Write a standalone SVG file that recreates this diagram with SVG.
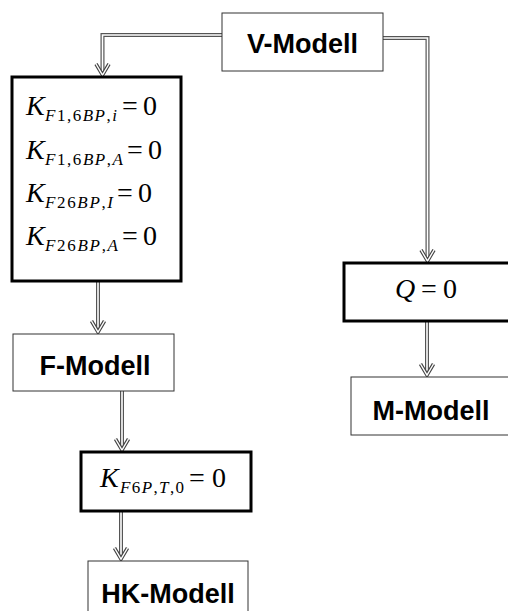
<svg xmlns="http://www.w3.org/2000/svg" xmlns:xlink="http://www.w3.org/1999/xlink" width="508" height="611" viewBox="0 0 508 611">
  <style>
    .box-thin { fill: #ffffff; stroke: #333333; stroke-width: 1; }
    .box-thick { fill: #ffffff; stroke: #000000; stroke-width: 3; }
    .model { font-family: "Liberation Sans", Arial, sans-serif; font-weight: bold; font-size: 27px; fill: #000; text-anchor: middle; }
    .m { font-family: "Liberation Serif", "Times New Roman", serif; font-size: 28px; fill: #000; }
    .sub { font-family: "Liberation Serif", "Times New Roman", serif; font-size: 17px; fill: #000; }
    .it { font-style: italic; }
    .pipe-o { fill: none; stroke: #555555; stroke-width: 4; stroke-linejoin: miter; }
    .pipe-i { fill: none; stroke: #ffffff; stroke-width: 1.6; stroke-linejoin: miter; }
    .head-o { fill: none; stroke: #444444; stroke-width: 3.6; stroke-linejoin: miter; }
    .head-i { fill: none; stroke: #ffffff; stroke-width: 1.4; stroke-linejoin: miter; }
  </style>
  <defs>
    <!-- hollow V arrowhead, tip at origin, pointing down -->
    <g id="ah">
      <path class="head-o" d="M-6.5,-12 L0,-1 L6.5,-12"/>
      <path class="head-i" d="M-6.5,-12 L0,-1 L6.5,-12"/>
    </g>
  </defs>

  <rect width="508" height="611" fill="#ffffff"/>

  <g id="connectors">
    <path class="pipe-o" d="M222,35 H102.5 V74"/>
    <path class="pipe-i" d="M222,35 H102.5 V74"/>
    <path class="pipe-o" d="M383,38 H427.5 V260"/>
    <path class="pipe-i" d="M383,38 H427.5 V260"/>
    <path class="pipe-o" d="M98,282 V331"/>
    <path class="pipe-i" d="M98,282 V331"/>
    <path class="pipe-o" d="M122,391 V449"/>
    <path class="pipe-i" d="M122,391 V449"/>
    <path class="pipe-o" d="M427,322 V374"/>
    <path class="pipe-i" d="M427,322 V374"/>
    <path class="pipe-o" d="M121,512 V558"/>
    <path class="pipe-i" d="M121,512 V558"/>
    <use xlink:href="#ah" x="102.5" y="76"/>
    <use xlink:href="#ah" x="427.5" y="262"/>
    <use xlink:href="#ah" x="98" y="333"/>
    <use xlink:href="#ah" x="122" y="451"/>
    <use xlink:href="#ah" x="427" y="376"/>
    <use xlink:href="#ah" x="121" y="560"/>
  </g>

  <g id="v-modell">
    <rect class="box-thin" x="222" y="13" width="161" height="58"/>
    <text class="model" x="302.5" y="52.5">V-Modell</text>
  </g>

  <g id="k-conditions">
    <rect class="box-thick" x="12" y="77" width="169" height="204"/>
    <text class="m it" x="26" y="115">K</text>
    <text class="sub" x="45" y="121" textLength="72" lengthAdjust="spacing"><tspan class="it">F</tspan>1,6<tspan class="it">BP</tspan>,<tspan class="it">i</tspan></text>
    <text class="m" x="122" y="115">=</text>
    <text class="m" x="143" y="115">0</text>

    <text class="m it" x="26" y="158.5">K</text>
    <text class="sub" x="45" y="164.5" textLength="78" lengthAdjust="spacing"><tspan class="it">F</tspan>1,6<tspan class="it">BP</tspan>,<tspan class="it">A</tspan></text>
    <text class="m" x="127" y="158.5">=</text>
    <text class="m" x="148" y="158.5">0</text>

    <text class="m it" x="26" y="202">K</text>
    <text class="sub" x="45" y="208" textLength="68" lengthAdjust="spacing"><tspan class="it">F</tspan>26<tspan class="it">BP</tspan>,<tspan class="it">I</tspan></text>
    <text class="m" x="117" y="202">=</text>
    <text class="m" x="138" y="202">0</text>

    <text class="m it" x="26" y="245">K</text>
    <text class="sub" x="45" y="251" textLength="73" lengthAdjust="spacing"><tspan class="it">F</tspan>26<tspan class="it">BP</tspan>,<tspan class="it">A</tspan></text>
    <text class="m" x="122" y="245">=</text>
    <text class="m" x="143" y="245">0</text>
  </g>

  <g id="f-modell">
    <rect class="box-thin" x="13" y="334" width="161" height="57"/>
    <text class="model" x="95" y="375">F-Modell</text>
  </g>

  <g id="q-condition">
    <rect class="box-thick" x="344" y="263" width="168" height="58"/>
    <text class="m it" x="395" y="298">Q</text>
    <text class="m" x="421" y="298">=</text>
    <text class="m" x="443" y="298">0</text>
  </g>

  <g id="m-modell">
    <rect class="box-thin" x="351" y="377" width="160" height="58"/>
    <text class="model" x="431" y="420">M-Modell</text>
  </g>

  <g id="k-f6p-condition">
    <rect class="box-thick" x="81" y="452" width="170" height="59"/>
    <text class="m it" x="100" y="487">K</text>
    <text class="sub" x="120" y="493" textLength="64" lengthAdjust="spacing"><tspan class="it">F</tspan>6<tspan class="it">P</tspan>,<tspan class="it">T</tspan>,0</text>
    <text class="m" x="189" y="487">=</text>
    <text class="m" x="212" y="487">0</text>
  </g>

  <g id="hk-modell">
    <rect class="box-thin" x="88" y="561" width="160" height="60"/>
    <text class="model" x="168" y="603">HK-Modell</text>
  </g>
</svg>
